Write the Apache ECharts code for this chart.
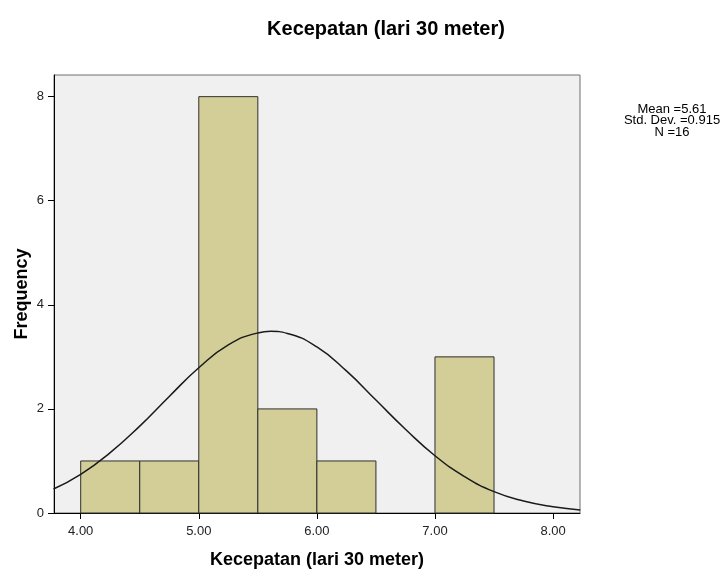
<!DOCTYPE html>
<html>
<head>
<meta charset="utf-8">
<script src="https://cdn.jsdelivr.net/npm/echarts@6/dist/echarts.min.js"></script>
<style>html,body{margin:0;padding:0;background:#fff}#c{width:726px;height:571px}</style>
</head>
<body>
<div id="c"></div>
<script>
// Histogram bins (start, end) and frequencies
var binStart = [4.0, 4.5, 5.0, 5.5, 6.0, 6.5, 7.0];
var binEnd   = [4.5, 5.0, 5.5, 6.0, 6.5, 7.0, 7.5];
var freq     = [1, 1, 8, 2, 1, 0, 3];
// Normal curve
var curveX = [3.77, 4.0, 4.25, 4.5, 4.75, 5.0, 5.25, 5.5, 5.61, 5.75, 6.0, 6.25, 6.5, 6.75, 7.0, 7.25, 7.5, 7.75, 8.0, 8.23];
var curveY = [0.46, 0.74, 1.16, 1.67, 2.24, 2.79, 3.23, 3.46, 3.49, 3.45, 3.19, 2.73, 2.17, 1.61, 1.10, 0.70, 0.41, 0.23, 0.12, 0.06];
var xTicks = [4, 5, 6, 7, 8];
var yTicks = [0, 2, 4, 6, 8];
var statsLines = ['Mean =5.61', 'Std. Dev. =0.915', 'N =16'];

var FONT = '"Liberation Sans", Arial, sans-serif';
var chart = echarts.init(document.getElementById('c'), null, {renderer: 'canvas'});

var barData = binStart.map(function (s, i) { return [s, binEnd[i], freq[i]]; }).filter(function (d) { return d[2] > 0; });
var curveData = curveX.map(function (x, i) { return [x, curveY[i]]; });

chart.setOption({
  animation: false,
  backgroundColor: '#ffffff',
  title: {
    text: 'Kecepatan (lari 30 meter)',
    left: 381, top: 14, textAlign: 'center',
    textStyle: {fontFamily: FONT, fontSize: 20, fontWeight: 'bold', color: '#000'}
  },
  grid: {
    left: 54, right: 146, top: 75, bottom: 58,
    outerBoundsMode: 'none', containLabel: false,
    show: true, backgroundColor: '#f0f0f0', borderColor: '#6e6e6e', borderWidth: 1
  },
  xAxis: {
    type: 'value', min: 3.774, max: 8.228,
    name: 'Kecepatan (lari 30 meter)', nameLocation: 'middle', nameGap: 38,
    nameTextStyle: {fontFamily: FONT, fontSize: 18, fontWeight: 'bold', color: '#000'},
    axisLine: {show: true, onZero: false, lineStyle: {color: '#000', width: 1}},
    axisTick: {show: true, length: 6, lineStyle: {color: '#000'}, customValues: xTicks},
    axisLabel: {customValues: xTicks, fontFamily: FONT, fontSize: 13, color: '#222', margin: 12,
      formatter: function (v) { return v.toFixed(2); }},
    splitLine: {show: false}
  },
  yAxis: {
    type: 'value', min: 0, max: 8.416,
    name: 'Frequency', nameLocation: 'middle', nameGap: 23, nameRotate: 90, nameMoveOverlap: false,
    nameTextStyle: {fontFamily: FONT, fontSize: 18, fontWeight: 'bold', color: '#000'},
    axisLine: {show: true, lineStyle: {color: '#000', width: 1}},
    axisTick: {show: true, length: 6, lineStyle: {color: '#000'}, customValues: yTicks},
    axisLabel: {customValues: yTicks, fontFamily: FONT, fontSize: 13, color: '#222', margin: 10},
    splitLine: {show: false}
  },
  graphic: statsLines.map(function (t, i) {
    return {type: 'text', x: 672, y: 109 + i * 11.5,
      style: {text: t, fill: '#000', font: '13px ' + FONT, textAlign: 'center', textVerticalAlign: 'middle'}};
  }),
  series: [
    {
      type: 'custom',
      data: barData,
      encode: {x: [0, 1], y: 2},
      renderItem: function (params, api) {
        var p0 = api.coord([api.value(0), 0]);
        var p1 = api.coord([api.value(1), api.value(2)]);
        return {
          type: 'rect',
          shape: {x: p0[0], y: p1[1], width: p1[0] - p0[0], height: p0[1] - p1[1]},
          style: {fill: '#d3ce97', stroke: '#2e2e2e', lineWidth: 1}
        };
      },
      z: 2
    },
    {
      type: 'line', data: curveData, smooth: true, symbol: 'none',
      lineStyle: {color: '#1a1a1a', width: 1.5}, z: 3
    }
  ]
});
</script>
</body>
</html>
